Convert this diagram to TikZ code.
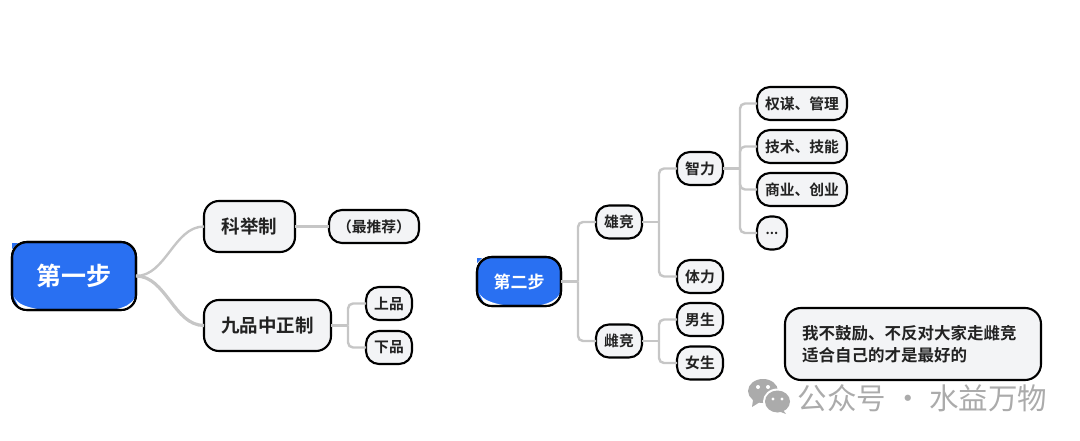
\documentclass[tikz,border=0pt]{standalone}
\usepackage{fontspec}
\setmainfont{Noto Sans CJK SC}[BoldFont={Noto Sans CJK SC Bold}]
\usetikzlibrary{calc}
\definecolor{boxfill}{HTML}{F3F4F6}
\definecolor{rootblue}{HTML}{2970F2}
\definecolor{linkgrey}{HTML}{C6C6C6}
\definecolor{inkdark}{HTML}{222222}
\definecolor{markgrey}{HTML}{ABABAB}
\tikzset{
  base/.style={draw=black,line width=2.1pt,fill=boxfill,text=inkdark,font=\bfseries,align=center,inner sep=0pt,outer sep=0pt},
  rootbox/.style={base,fill=rootblue,text=white,rounded corners=15pt},
  midbox/.style={base,rounded corners=15pt,minimum height=51pt,font=\bfseries\fontsize{18.5}{22}\selectfont},
  leafbox/.style={base,rounded corners=13pt,minimum height=33pt,font=\bfseries\fontsize{14.8}{18}\selectfont},
  notebox/.style={base,rounded corners=16pt,minimum width=256pt,minimum height=72pt,text width=222pt,align=left,font=\bfseries\fontsize{16.5}{22}\selectfont},
  link/.style={draw=linkgrey,line width=2.4pt,rounded corners=5pt},
  curvelink/.style={draw=linkgrey,line width=2.4pt},
  rootline/.style={draw=black,line width=2.1pt,rounded corners=15pt},
}
% straight stub from the parent, then a trunk with a rounded turn into the child
\newcommand{\branchlink}[2]{%
  \draw[curvelink] (#1.east) -- ++(17,0);
  \draw[link] ($(#1.east)+(17,0)$) |- (#2.west);
}
\begin{document}
\begin{tikzpicture}[x=1pt,y=-1pt]
\useasboundingbox (0,0) rectangle (1080,441);
% first mind map
\fill[rootblue] (12,243) -- (18,243) -- (12,249) -- cycle;
\node[rootbox,minimum width=124pt,minimum height=68pt,font=\bfseries\fontsize{25}{28}\selectfont] (one) at (74,276) {第一步};
\fill[white] (14,297) .. controls (18,305) and (28,307) .. (37,309) -- (20,309) -- cycle;
\fill[white] (135,298) .. controls (130,305) and (125,307) .. (117,309) -- (130,309) -- cycle;
\draw[rootline] (one.south west) rectangle (one.north east);
\node[midbox,minimum width=91pt] (keju) at (249.5,226.5) {科举制};
\node[leafbox,minimum width=90pt] (best) at (374,226.5) {（最推荐）};
\node[midbox,minimum width=127pt] (jiupin) at (267.5,325.5) {九品中正制};
\node[leafbox,minimum width=46pt] (up) at (389,303.5) {上品};
\node[leafbox,minimum width=46pt] (down) at (389,347.5) {下品};
\draw[curvelink] (one.east) .. controls +(30,0) and +(-30,0) .. (keju.west);
\draw[curvelink,line width=3.2pt] (one.east) .. controls +(30,0) and +(-30,0) .. (jiupin.west);
\draw[curvelink] (keju.east) -- (best.west);
\branchlink{jiupin}{up}
\branchlink{jiupin}{down}
% second mind map
\fill[rootblue] (477,258) -- (482,258) -- (477,263) -- cycle;
\node[rootbox,minimum width=84pt,minimum height=49pt,font=\bfseries\fontsize{17}{20}\selectfont] (two) at (519,281.5) {第二步};
\fill[white] (479,293) .. controls (483,300) and (492,303) .. (503,305) -- (485,305) -- cycle;
\fill[white] (560,294) .. controls (556,300) and (550,303) .. (541,305) -- (555,305) -- cycle;
\draw[rootline] (two.south west) rectangle (two.north east);
\node[leafbox,minimum width=46pt] (male) at (619,222) {雄竞};
\node[leafbox,minimum width=46pt] (female) at (619,341) {雌竞};
\node[leafbox,minimum width=46pt] (mind) at (700,168.5) {智力};
\node[leafbox,minimum width=46pt] (body) at (700,276.5) {体力};
\node[leafbox,minimum width=46pt] (boy) at (700,319.5) {男生};
\node[leafbox,minimum width=46pt] (girl) at (700,363) {女生};
\node[leafbox,minimum width=90pt] (a) at (802,103.5) {权谋、管理};
\node[leafbox,minimum width=90pt] (b) at (802,146.5) {技术、技能};
\node[leafbox,minimum width=90pt] (c) at (802,189.5) {商业、创业};
\node[leafbox,minimum width=30pt,font=\bfseries\fontsize{13}{16}\selectfont] (d) at (772,233) {...};
\branchlink{two}{male}
\branchlink{two}{female}
\branchlink{male}{mind}
\branchlink{male}{body}
\branchlink{female}{boy}
\branchlink{female}{girl}
\branchlink{mind}{a}
\branchlink{mind}{b}
\branchlink{mind}{c}
\branchlink{mind}{d}
% note
\node[notebox] (note) at (913,344) {我不鼓励、不反对大家走雌竞\\适合自己的才是最好的};
% watermark
\fill[markgrey] (763,391) ellipse[x radius=15,y radius=12];
\fill[markgrey] (753,400) -- (752,407) -- (760,402) -- cycle;
\fill[white] (777.5,401.5) ellipse[x radius=14.5,y radius=13];
\fill[markgrey] (777.5,401.5) ellipse[x radius=12.5,y radius=11];
\fill[markgrey] (783,410) -- (786,414) -- (778,411) -- cycle;
\fill[white] (758,387) circle[radius=2] (768,387) circle[radius=2] (773,399) circle[radius=1.7] (782,399) circle[radius=1.7];
\node[text=markgrey,font=\fontsize{29.5}{32}\selectfont,inner sep=0pt] (mark) at (922.5,398) {公众号 · 水益万物};
\end{tikzpicture}
\end{document}
